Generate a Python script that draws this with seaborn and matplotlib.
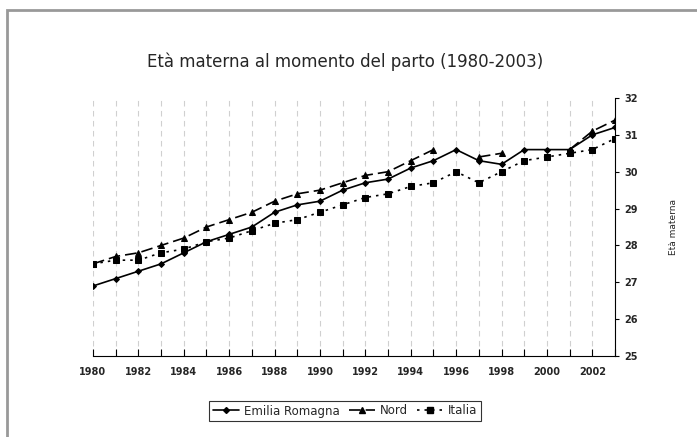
import numpy as np
import pandas as pd
import seaborn as sns
import matplotlib.pyplot as plt
from matplotlib.lines import Line2D
from matplotlib.patches import Rectangle

# values
years = list(range(1980, 2004))
emilia = [26.9, 27.1, 27.3, 27.5, 27.8, 28.1, 28.3, 28.5, 28.9, 29.1, 29.2, 29.5,
          29.7, 29.8, 30.1, 30.3, 30.6, 30.3, 30.2, 30.6, 30.6, 30.6, 31.0, 31.2]
nord = [27.5, 27.7, 27.8, 28.0, 28.2, 28.5, 28.7, 28.9, 29.2, 29.4, 29.5, 29.7,
        29.9, 30.0, 30.3, 30.6, np.nan, 30.4, 30.5, np.nan, np.nan, 30.6, 31.1, 31.4]
italia = [27.5, 27.6, 27.6, 27.8, 27.9, 28.1, 28.2, 28.4, 28.6, 28.7, 28.9, 29.1,
          29.3, 29.4, 29.6, 29.7, 30.0, 29.7, 30.0, 30.3, 30.4, 30.5, 30.6, 30.9]
series_names = ["Emilia Romagna", "Nord", "Italia"]

rows = []
for name, vals in zip(series_names, [emilia, nord, italia]):
    seg = 0
    for y, v in zip(years, vals):
        if np.isnan(v):
            seg += 1  # break the line where a value is missing
            continue
        rows.append({"anno": y, "eta": v, "serie": name, "seg": f"{name}-{seg}"})
df = pd.DataFrame(rows)

sns.set_style("white")
plt.rcParams["font.family"] = ["DejaVu Sans"]

fig = plt.figure(figsize=(6.97, 4.37), dpi=100)
ax = fig.add_axes([93 / 697, 1 - 356 / 437, (615 - 93) / 697, (356 - 98) / 437])

styles = {
    "Emilia Romagna": dict(marker="D", ls="-", ms=3),
    "Nord": dict(marker="^", ls=(0, (7, 3)), ms=4.5),
    "Italia": dict(marker="s", ls=(0, (1.5, 3)), ms=4.5),
}
handles = []
for name in series_names:
    st = styles[name]
    sub = df[df["serie"] == name]
    sns.lineplot(data=sub, x="anno", y="eta", units="seg", estimator=None,
                 color="black", lw=1.2, marker=st["marker"], markersize=st["ms"],
                 markeredgecolor="black", linestyle=st["ls"], ax=ax, legend=False)
    handles.append(Line2D([], [], color="black", lw=1.2, ls=st["ls"],
                          marker=st["marker"], markersize=st["ms"], label=name))

ax.set_xlim(1980, 2003)
ax.set_ylim(25, 32)
ax.set_xticks(years, minor=True)
ax.set_xticks(years[::2])
ax.set_xticklabels([str(y) for y in years[::2]], fontsize=7, fontweight="bold")
ax.tick_params(axis="x", which="both", direction="in", length=5, width=0.8,
               bottom=True, color="black", pad=8)
ax.grid(False)
for y in years:
    ax.axvline(y, color="#d0d0d0", lw=0.8, ls=(0, (5, 4)), zorder=0)

ax.yaxis.tick_right()
ax.yaxis.set_label_position("right")
ax.set_yticks(range(25, 33))
ax.set_yticklabels([str(v) for v in range(25, 33)], fontsize=7, fontweight="bold")
ax.tick_params(axis="y", direction="out", length=3, width=0.8, right=True,
               color="black", pad=4)
ax.set_ylabel("Età materna", fontsize=6.5, labelpad=22)
ax.set_xlabel("")

for side in ["left", "top"]:
    ax.spines[side].set_visible(False)
for side in ["right", "bottom"]:
    ax.spines[side].set_color("black")
    ax.spines[side].set_linewidth(0.8)

fig.text(0.495, 1 - 62 / 437, "Età materna al momento del parto (1980-2003)",
         ha="center", va="center", fontsize=12)

leg = fig.legend(handles=handles, loc="center", bbox_to_anchor=(0.495, 1 - 411 / 437),
                 ncol=3, frameon=True, fancybox=False, edgecolor="black",
                 fontsize=8.5, handlelength=2.2, columnspacing=0.8,
                 handletextpad=0.4, borderpad=0.3, borderaxespad=0)
leg.get_frame().set_linewidth(0.8)

fig.patches.append(Rectangle((7 / 697, -0.05), 1.1, 1 - 10 / 437 + 0.05,
                             transform=fig.transFigure, fill=False,
                             edgecolor="#999999", lw=2))

fig.savefig("out.png", dpi=100)
